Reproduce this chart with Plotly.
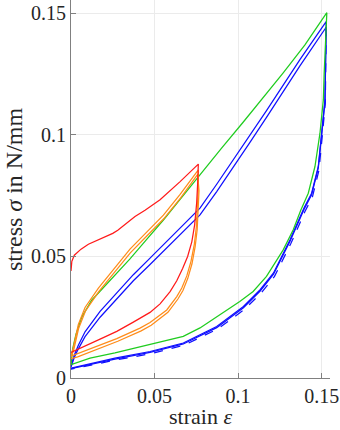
import plotly.graph_objects as go

# ---- data (strain, stress) ----
red_x = [0, 0.0005, 0.002, 0.006, 0.0104, 0.0164, 0.025, 0.028, 0.0353, 0.0383, 0.0443, 0.0533, 0.0653, 0.0762,
         0.0758, 0.0752, 0.0740, 0.0723, 0.0698, 0.0668, 0.0633, 0.0593, 0.0533, 0.0473, 0.0373, 0.0274, 0.0174, 0.0084, 0.0034, 0]
red_y = [0.044, 0.048, 0.0505, 0.053, 0.055, 0.0568, 0.0595, 0.0608, 0.065, 0.0664, 0.069, 0.0733, 0.0808, 0.088,
         0.080, 0.072, 0.063, 0.056, 0.050, 0.045, 0.040, 0.0355, 0.0305, 0.0270, 0.0230, 0.0192, 0.0160, 0.0132, 0.0116, 0.0105]

orange1_x = [0, 0.0014, 0.0044, 0.0084, 0.0164, 0.0263, 0.0353, 0.0453, 0.0553, 0.0653, 0.0762,
             0.0762, 0.0758, 0.0750, 0.0738, 0.0718, 0.0693, 0.0663, 0.0633, 0.0573, 0.0473, 0.0413, 0.0274, 0.0134, 0.0034, 0]
orange1_y = [0.009, 0.0125, 0.022, 0.029, 0.037, 0.0455, 0.053, 0.060, 0.067, 0.0755, 0.0856,
             0.078, 0.070, 0.062, 0.055, 0.048, 0.042, 0.037, 0.0335, 0.028, 0.0228, 0.0205, 0.0162, 0.0125, 0.0098, 0.0090]
orange2_x = [0, 0.0016, 0.0046, 0.0086, 0.0166, 0.0265, 0.0355, 0.0455, 0.0555, 0.0655, 0.0758,
             0.0766, 0.0762, 0.0755, 0.0743, 0.0724, 0.0699, 0.0670, 0.0640, 0.0580, 0.0480, 0.0420, 0.0280, 0.0140, 0.0040, 0]
orange2_y = [0.0085, 0.0115, 0.0205, 0.0275, 0.0355, 0.044, 0.0515, 0.0585, 0.0655, 0.074, 0.0838,
             0.077, 0.069, 0.061, 0.054, 0.047, 0.041, 0.036, 0.0325, 0.0270, 0.0217, 0.0194, 0.0151, 0.0114, 0.0087, 0.0080]

green_x = [0, 0.001, 0.003, 0.0064, 0.0124, 0.0204, 0.0313, 0.0353, 0.0453, 0.0553, 0.0653, 0.0772, 0.09, 0.103, 0.115, 0.127, 0.14, 0.1531,
           0.1515, 0.151, 0.149, 0.146, 0.142, 0.1375, 0.133, 0.127, 0.117, 0.109, 0.101, 0.0872, 0.0772, 0.0672, 0.0473, 0.0263, 0.0114, 0]
green_y = [0.0055, 0.012, 0.018, 0.025, 0.032, 0.038, 0.0458, 0.049, 0.057, 0.065, 0.0735, 0.0838, 0.0945, 0.1052, 0.1152, 0.1255, 0.137, 0.1503,
           0.125, 0.1144, 0.1007, 0.087, 0.076, 0.069, 0.061, 0.0527, 0.0418, 0.0356, 0.0315, 0.0253, 0.0206, 0.0171, 0.0137, 0.0103, 0.0082, 0.0055]

blue1_x = [0, 0.002, 0.0044, 0.0084, 0.0174, 0.0273, 0.0373, 0.0473, 0.0573, 0.0653, 0.073, 0.0772, 0.0872, 0.0972, 0.107, 0.117, 0.127, 0.137, 0.1527,
           0.152, 0.150, 0.148, 0.144, 0.1395, 0.131, 0.1212, 0.1132, 0.1032, 0.0872, 0.0672, 0.0473, 0.0263, 0]
blue1_y = [0.0048, 0.0095, 0.0135, 0.019, 0.0274, 0.035, 0.0425, 0.0493, 0.0561, 0.0615, 0.067, 0.0699, 0.0797, 0.0897, 0.0998, 0.110, 0.1205, 0.131, 0.1466,
           0.1144, 0.1007, 0.087, 0.076, 0.070, 0.0568, 0.0432, 0.0363, 0.0294, 0.0212, 0.0144, 0.0109, 0.0082, 0.0041]
blue2_x = [0, 0.002, 0.0044, 0.0084, 0.0174, 0.0273, 0.0373, 0.0473, 0.0573, 0.0653, 0.073, 0.0772, 0.0872, 0.0972, 0.107, 0.117, 0.127, 0.137, 0.1527,
           0.152, 0.150, 0.148, 0.144, 0.1395, 0.131, 0.1212, 0.1132, 0.1032, 0.0872, 0.0672, 0.0473, 0.0263, 0]
blue2_y = [0.0045, 0.0085, 0.012, 0.017, 0.025, 0.0325, 0.040, 0.0467, 0.0535, 0.0588, 0.0642, 0.0671, 0.0767, 0.0866, 0.0968, 0.1072, 0.1178, 0.1284, 0.1443,
           0.1138, 0.1001, 0.0864, 0.0754, 0.0694, 0.0562, 0.0427, 0.0358, 0.0289, 0.0207, 0.0140, 0.0105, 0.0078, 0.0038]
blue3_x = [0.1527, 0.1522, 0.1503, 0.1484, 0.1445, 0.1400, 0.1315, 0.1218, 0.1138, 0.1038, 0.0878, 0.0678, 0.0478, 0.0268, 0]
blue3_y = [0.1443, 0.1130, 0.0990, 0.0855, 0.0745, 0.0685, 0.0552, 0.0418, 0.0350, 0.0282, 0.0202, 0.0135, 0.0100, 0.0074, 0.0036]

x_ticks = [0, 0.05, 0.1, 0.15]
x_labels = ["0", "0.05", "0.1", "0.15"]
y_ticks = [0, 0.05, 0.1, 0.15]
y_labels = ["0", "0.05", "0.1", "0.15"]
x_title = "strain <i>ε</i>"
y_title = "stress <i>σ</i> in N/mm"

RED = "#ff1a1a"
ORANGE = "#ff8c1a"
GREEN = "#1fcc1f"
BLUE = "#1010ff"
LW = 1.25

fig = go.Figure()
traces = [
    (blue3_x, blue3_y, BLUE, "dash"),
    (blue2_x, blue2_y, BLUE, "solid"),
    (blue1_x, blue1_y, BLUE, "solid"),
    (green_x, green_y, GREEN, "solid"),
    (orange2_x, orange2_y, ORANGE, "solid"),
    (orange1_x, orange1_y, ORANGE, "solid"),
    (red_x, red_y, RED, "solid"),
]
for xs, ys, c, d in traces:
    fig.add_trace(go.Scatter(x=xs, y=ys, mode="lines",
                             line=dict(color=c, width=LW, dash=d),
                             showlegend=False, hoverinfo="skip"))

FONT = "Liberation Serif"
TXT = "#262626"
fig.update_layout(
    width=340, height=430,
    margin=dict(l=71, r=10, t=0, b=52),
    paper_bgcolor="white", plot_bgcolor="white",
    xaxis=dict(range=[0, 0.155], tickvals=x_ticks, ticktext=x_labels,
               showgrid=True, gridcolor="#ebebeb", gridwidth=1,
               showline=True, linecolor="#808080", linewidth=1,
               ticks="inside", ticklen=5, tickcolor="#808080",
               zeroline=False, automargin=False,
               tickfont=dict(size=20, family=FONT, color=TXT)),
    yaxis=dict(range=[0, 0.1555], tickvals=y_ticks, ticktext=y_labels,
               showgrid=True, gridcolor="#ebebeb", gridwidth=1,
               showline=True, linecolor="#808080", linewidth=1,
               ticks="inside", ticklen=5, tickcolor="#808080",
               zeroline=False, automargin=False,
               tickfont=dict(size=20, family=FONT, color=TXT)),
)
fig.add_annotation(text=x_title, xref="paper", yref="paper", x=0.5, y=0, yshift=-53,
                   xanchor="center", yanchor="bottom", showarrow=False,
                   font=dict(size=22, family=FONT, color=TXT))
fig.add_annotation(text=y_title, xref="paper", yref="paper", x=0, y=0.5, xshift=-57,
                   xanchor="center", yanchor="middle", textangle=-90, showarrow=False,
                   font=dict(size=24, family=FONT, color=TXT))

fig.write_html("out.html", config={"displayModeBar": False},
               post_script="document.body.style.margin='0px';")
